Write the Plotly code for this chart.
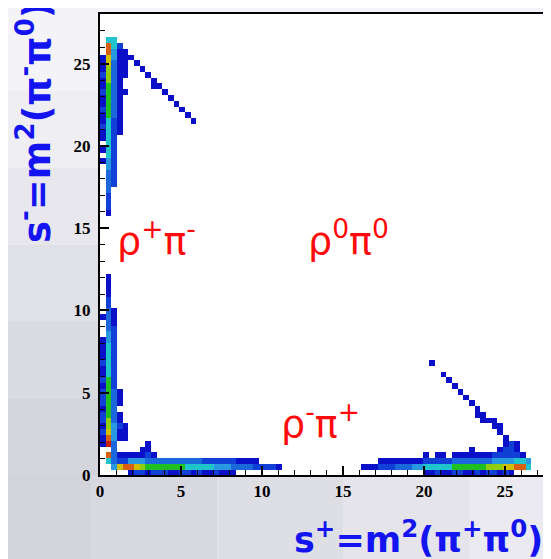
import numpy as np
import plotly.graph_objects as go

# Dalitz plot: s+ = m^2(pi+ pi0) on x, s- = m^2(pi- pi0) on y
BIN = 0.35
NBINS = 80

# horizontal strips: (first s+ bin, counts...) for each s- bin row
row0 = [(5, [1, 2, 2, 1, 2, 2, 2, 1, 1, 2, 2, 1, 2, 1, 1, 2, 1, 1, 1]),
        (57, [1, 1, 2, 1, 1, 2, 2, 1, 1, 2, 1, 2, 2, 1, 2, 1])]
row1 = [(2, [4, 8, 9, 9, 8, 7, 6, 6, 6, 6, 6, 6, 6, 5, 5, 5, 5, 5, 4, 4, 4, 3, 3, 3, 3, 2, 2, 2, 2, 1]),
        (46, [1, 1, 1, 2, 2, 2, 3, 3, 3, 4, 4, 5, 5, 5, 5, 5, 6, 6, 6, 6, 6, 6, 7, 7, 7, 8, 8, 9, 9, 5])]
row2 = [(1, [5, 3, 2, 2, 4, 4, 4, 3, 3, 3, 3, 3, 3, 3, 3, 3, 3, 2, 2, 2, 2, 2, 2, 1, 1, 1, 1]),
        (49, [1, 1, 1, 1, 1, 1, 1, 1, 2, 2, 2, 2, 2, 3, 3, 3, 3, 3, 3, 3, 4, 4, 4, 4, 5, 5, 4])]
row3 = [(3, [1, 1, 1, 1, 1, 2, 1]), (57, [1]), (59, [1, 1]),
        (62, [1, 1, 1, 1, 1, 1, 1, 2, 2, 2, 2, 2, 1])]
row4 = [(7, [1, 1]), (65, [1]), (70, [1, 2, 2, 1])]
row5 = [(8, [1]), (71, [1, 2, 1])]

# vertical strips: (first s- bin, counts...) for each s+ bin column
col0 = [(5, [1, 1, 2, 1, 2, 2, 1, 2, 2, 2, 1, 2, 1, 1, 2, 1, 1, 1, 1]), (27, [1]), (54, [1]), (56, [1]),
        (58, [1, 1, 2, 1, 1, 2, 1, 1, 2, 1, 1, 2, 1, 1, 1])]
col1 = [(2, [5, 9, 0, 10, 9, 8, 7, 7, 6, 6, 6, 6, 6, 6, 6, 5, 5, 5, 5, 5, 5, 4, 4, 3, 3, 3, 3, 2, 2, 1, 1, 1, 1]),
        (45, [1, 2, 2, 2, 3, 3, 3, 3, 4, 4, 5, 5, 5, 5, 5, 5, 5, 6, 6, 6, 6, 6, 6, 7, 7, 7, 8, 8, 9, 9, 5])]
col2 = [(1, [4, 3, 3, 3, 3, 4, 4, 4, 3, 3, 3, 3, 3, 3, 2, 2, 2, 2, 2, 2, 2, 2, 2, 2, 2, 1, 1, 1]),
        (50, [2, 2, 2, 2, 2, 2, 2, 2, 2, 2, 2, 2, 3, 3, 3, 3, 3, 3, 3, 3, 3, 3, 4, 4, 5, 5])]
col3 = [(6, [1, 1, 2, 1, 1]), (12, [1, 1, 1]),
        (59, [1, 1, 1, 1, 1, 1, 1, 1, 1, 1, 1, 1, 1, 1, 1, 2])]
col4 = [(6, [1, 1, 1]), (66, [1]), (69, [1, 1, 1, 1, 1])]

# kinematic edge (single-count bins)
diag_hi_splus = [5, 6, 7, 8, 9, 9, 10, 11, 12, 13, 14, 15, 16]
diag_hi_sminus = [72, 71, 70, 69, 68, 67, 67, 66, 65, 64, 63, 62, 61]
diag_lo_splus = [58, 60, 61, 62, 63, 64, 65, 66, 66, 67, 67, 68, 69, 69, 70, 70, 71, 71, 72]
diag_lo_sminus = [19, 17, 16, 15, 14, 13, 12, 11, 10, 10, 9, 9, 9, 8, 8, 7, 6, 5, 5]

z = np.zeros((NBINS, NBINS))
for r, strips in enumerate([row0, row1, row2, row3, row4, row5]):
    for start, vals in strips:
        for i, v in enumerate(vals):
            z[r, start + i] = max(z[r, start + i], v)
for c, strips in enumerate([col0, col1, col2, col3, col4]):
    for start, vals in strips:
        for i, v in enumerate(vals):
            z[start + i, c] = max(z[start + i, c], v)
for sx, sy in zip(diag_hi_splus + diag_lo_splus, diag_hi_sminus + diag_lo_sminus):
    z[sy, sx] = max(z[sy, sx], 1)
z[z == 0] = np.nan

centers = (np.arange(NBINS) + 0.5) * BIN

rainbow = [
    [0.0, "#0a10c8"], [0.111, "#1040d6"], [0.222, "#1a68dc"], [0.333, "#2898e0"],
    [0.444, "#20c4cc"], [0.556, "#20c020"], [0.667, "#90cc10"], [0.778, "#d2c000"],
    [0.889, "#d86010"], [1.0, "#c82010"],
]

fig = go.Figure()
fig.add_trace(go.Heatmap(
    x=centers, y=centers, z=z,
    zmin=1, zmax=10, colorscale=rainbow,
    showscale=False, hoverongaps=False,
))

blue = "#1414f0"
red = "#ff0a0a"
label_font = dict(family="DejaVu Sans", size=38, color=red)

# channel labels
for lx, ly, txt in [(0.126, 0.514, "ρ<sup>+</sup>π<sup>-</sup>"),
                    (0.55, 0.514, "ρ<sup>0</sup>π<sup>0</sup>"),
                    (0.49, 0.117, "ρ<sup>-</sup>π<sup>+</sup>")]:
    fig.add_annotation(x=lx, y=ly, xref="paper", yref="paper", text=txt,
                       xanchor="center", yanchor="middle", showarrow=False, font=label_font)

# axis titles
fig.add_annotation(x=-0.145, y=0.765, xref="paper", yref="paper",
                   text="s<sup>-</sup>=m<sup>2</sup>(π<sup>-</sup>π<sup>0</sup>)", textangle=-90,
                   xanchor="center", yanchor="middle", showarrow=False,
                   font=dict(family="DejaVu Sans", size=37, color=blue, weight="bold"))
fig.add_annotation(x=0.707, y=-0.134, xref="paper", yref="paper",
                   text="s<sup>+</sup>=m<sup>2</sup>(π<sup>+</sup>π<sup>0</sup>)",
                   xanchor="center", yanchor="middle", showarrow=False,
                   font=dict(family="DejaVu Sans", size=35, color=blue, weight="bold"))
fig.add_annotation(x=0.985, y=-0.085, xref="paper", yref="paper", text="s<sup>+</sup>",
                   xanchor="left", yanchor="middle", showarrow=False,
                   font=dict(family="DejaVu Sans", size=14, color=blue, weight="bold"))

# slide background outside the frame: light at the top, greyer towards bottom-left
left_bands = ["#f4f4f8", "#eeeef3", "#e7e7ed", "#e0e0e7", "#dadae1", "#d5d5dd"]
for i, col in enumerate(left_bands):
    fig.add_shape(type="rect", xref="paper", yref="paper", layer="below", line_width=0,
                  x0=-0.3, x1=0, y0=1 - (i + 1) / 6, y1=1 - i / 6, fillcolor=col)
bottom_bands = ["#d3d3db", "#d8d8e0", "#dedee5", "#e4e4ea", "#eaeaf0"]
for i, col in enumerate(bottom_bands):
    fig.add_shape(type="rect", xref="paper", yref="paper", layer="below", line_width=0,
                  x0=-0.3 + i * 0.28, x1=-0.3 + (i + 1) * 0.28, y0=-0.3, y1=0, fillcolor=col)

fig.update_xaxes(
    range=[0, 27.84], tickvals=[0, 5, 10, 15, 20, 25],
    ticks="inside", ticklen=9, tickwidth=1.5, tickcolor="black",
    minor=dict(dtick=1, ticks="inside", ticklen=5, tickwidth=1.2, tickcolor="black"),
    showline=True, linecolor="black", linewidth=2, mirror=True,
    showgrid=False, zeroline=False,
    tickfont=dict(family="Liberation Serif", size=17, color="black", weight="bold"),
)
fig.update_yaxes(
    range=[0, 28.02], tickvals=[0, 5, 10, 15, 20, 25],
    ticks="inside", ticklen=9, tickwidth=1.5, tickcolor="black",
    minor=dict(dtick=1, ticks="inside", ticklen=5, tickwidth=1.2, tickcolor="black"),
    showline=True, linecolor="black", linewidth=2,
    showgrid=False, zeroline=False, ticklabelstandoff=4,
    tickfont=dict(family="Liberation Serif", size=17, color="black", weight="bold"),
)

# the page adds an 8px body margin, so the figure is 8px smaller than the window
fig.update_layout(
    width=543, height=551,
    margin=dict(l=92, r=0, t=6, b=84),
    paper_bgcolor="#f4f4f8",
    plot_bgcolor="white",
    showlegend=False,
)

fig.write_html("out.html")
